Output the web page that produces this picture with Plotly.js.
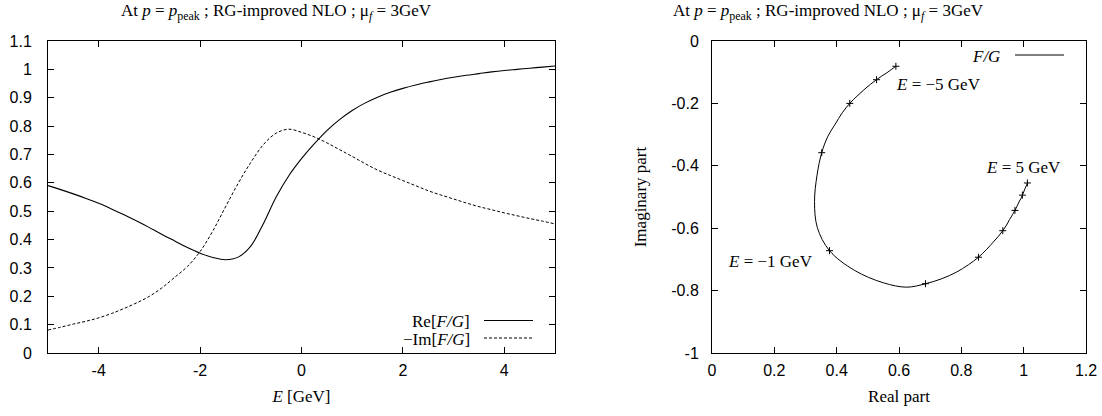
<!DOCTYPE html>
<html>
<head>
<meta charset="utf-8">
<script src="https://cdn.plot.ly/plotly-3.0.1.min.js"></script>
<style>html,body{margin:0;padding:0;background:#fff;}#chart{width:1102px;height:416px;}</style>
</head>
<body>
<div id="chart"></div>
<script>
// Energy grid [GeV]
const E = [-5, -4.75, -4.5, -4.25, -4, -3.75, -3.5, -3.25, -3, -2.75, -2.5, -2.25, -2, -1.75, -1.5, -1.25, -1, -0.75, -0.5, -0.25, 0, 0.25, 0.5, 0.75, 1, 1.25, 1.5, 1.75, 2, 2.25, 2.5, 2.75, 3, 3.25, 3.5, 3.75, 4, 4.25, 4.5, 4.75, 5];
// Re[F/G]
const reFG = [0.590, 0.576, 0.561, 0.545, 0.528, 0.508, 0.487, 0.465, 0.442, 0.418, 0.395, 0.372, 0.352, 0.337, 0.329, 0.338, 0.377, 0.457, 0.550, 0.625, 0.685, 0.737, 0.784, 0.823, 0.855, 0.881, 0.902, 0.919, 0.933, 0.945, 0.955, 0.964, 0.972, 0.979, 0.985, 0.991, 0.996, 1.000, 1.004, 1.008, 1.012];
// -Im[F/G]
const negImFG = [0.081, 0.091, 0.102, 0.112, 0.124, 0.139, 0.157, 0.177, 0.200, 0.230, 0.267, 0.305, 0.358, 0.430, 0.515, 0.598, 0.672, 0.735, 0.775, 0.789, 0.778, 0.762, 0.741, 0.717, 0.693, 0.668, 0.645, 0.626, 0.608, 0.590, 0.572, 0.557, 0.543, 0.529, 0.516, 0.505, 0.494, 0.484, 0.474, 0.465, 0.455];

// Tick values and labels
const leftXTicks = [-4, -2, 0, 2, 4];
const leftXTickText = ['-4', '-2', '0', '2', '4'];
const leftYTicks = [0, 0.1, 0.2, 0.3, 0.4, 0.5, 0.6, 0.7, 0.8, 0.9, 1, 1.1];
const leftYTickText = ['0', '0.1', '0.2', '0.3', '0.4', '0.5', '0.6', '0.7', '0.8', '0.9', '1', '1.1'];
const rightXTicks = [0, 0.2, 0.4, 0.6, 0.8, 1, 1.2];
const rightXTickText = ['0', '0.2', '0.4', '0.6', '0.8', '1', '1.2'];
const rightYTicks = [0, -0.2, -0.4, -0.6, -0.8, -1];
const rightYTickText = ['0', '-0.2', '-0.4', '-0.6', '-0.8', '-1'];

const titleText = 'At <i>p</i> = <i>p</i><sub>peak</sub> ; RG-improved NLO ; μ<sub><i>f</i></sub> = 3GeV';
const legendLeft = ['Re[<i>F/G</i>]', '−Im[<i>F/G</i>]'];
const legendRight = '<i>F/G</i>';
const pointLabels = ['<i>E</i> = −5 GeV', '<i>E</i> = 5 GeV', '<i>E</i> = −1 GeV'];

const imFG = negImFG.map(v => -v);
const markIdx = E.map((e, i) => Number.isInteger(e) ? i : -1).filter(i => i >= 0);

const W = 1102, H = 416;
const mt = 41, mb = 63;
const ph = H - mt - mb;
const px = v => v / W;
const py = v => (H - mb - v) / ph;

const serif = 'Liberation Serif, Times New Roman, serif';
const sans = 'Liberation Sans, Arial, Helvetica, sans-serif';
const SF = 17;

const traces = [
  {x: E, y: reFG, xaxis: 'x', yaxis: 'y', mode: 'lines', line: {color: '#000', width: 1.1, shape: 'spline', smoothing: 1}, hoverinfo: 'skip'},
  {x: E, y: negImFG, xaxis: 'x', yaxis: 'y', mode: 'lines', line: {color: '#000', width: 1, dash: '3px,2px', shape: 'spline', smoothing: 1}, hoverinfo: 'skip'},
  {x: reFG, y: imFG, xaxis: 'x2', yaxis: 'y2', mode: 'lines', line: {color: '#000', width: 1, shape: 'spline', smoothing: 1}, hoverinfo: 'skip'},
  {x: markIdx.map(i => reFG[i]), y: markIdx.map(i => imFG[i]), xaxis: 'x2', yaxis: 'y2', mode: 'markers',
   marker: {symbol: 'cross-thin', size: 5, color: '#000', line: {color: '#000', width: 1}}, hoverinfo: 'skip'}
];

const axisCommon = {
  showline: true, linecolor: '#000', linewidth: 1, mirror: 'ticks',
  ticks: 'inside', ticklen: 6, tickwidth: 1, tickcolor: '#000',
  showgrid: false, zeroline: false, tickmode: 'array',
  tickfont: {family: sans, size: 16, color: '#000'},
  ticklabelstandoff: 3
};

const frame = (l, r, t, b) => ({type: 'rect', xref: 'paper', yref: 'paper', x0: px(l), x1: px(r), y0: py(b), y1: py(t),
  line: {color: '#000', width: 1}, fillcolor: 'rgba(0,0,0,0)', layer: 'above'});

const layout = {
  width: W, height: H,
  margin: {l: 0, r: 0, t: mt, b: mb, pad: 0},
  paper_bgcolor: '#fff', plot_bgcolor: '#fff',
  showlegend: false,
  xaxis: Object.assign({}, axisCommon, {domain: [px(48), px(555)], range: [-5, 5], tickvals: leftXTicks, ticktext: leftXTickText,
    title: {text: '<i>E</i> [GeV]', font: {family: serif, size: SF, color: '#000'}, standoff: 11}, anchor: 'y'}),
  yaxis: Object.assign({}, axisCommon, {domain: [0, 1], range: [0, 1.1], tickvals: leftYTicks, ticktext: leftYTickText, anchor: 'x',
    ticklabelstandoff: 12}),
  xaxis2: Object.assign({}, axisCommon, {domain: [px(712), px(1086)], range: [0, 1.2], tickvals: rightXTicks, ticktext: rightXTickText,
    title: {text: 'Real part', font: {family: serif, size: SF, color: '#000'}, standoff: 11}, anchor: 'y2'}),
  yaxis2: Object.assign({}, axisCommon, {domain: [0, 1], range: [-1, 0], tickvals: rightYTicks, ticktext: rightYTickText, anchor: 'x2',
    ticklabelstandoff: 9,
    title: {text: 'Imaginary part', font: {family: serif, size: SF, color: '#000'}, standoff: 20}}),
  annotations: [
    {xref: 'paper', yref: 'paper', x: px(276), y: py(12), text: titleText, showarrow: false, xanchor: 'center', yanchor: 'middle', font: {family: serif, size: SF, color: '#000'}},
    {xref: 'paper', yref: 'paper', x: px(828), y: py(12), text: titleText, showarrow: false, xanchor: 'center', yanchor: 'middle', font: {family: serif, size: SF, color: '#000'}},
    {xref: 'paper', yref: 'paper', x: px(472), y: py(321), text: legendLeft[0], showarrow: false, xanchor: 'right', yanchor: 'middle', font: {family: serif, size: SF, color: '#000'}},
    {xref: 'paper', yref: 'paper', x: px(472), y: py(339), text: legendLeft[1], showarrow: false, xanchor: 'right', yanchor: 'middle', font: {family: serif, size: SF, color: '#000'}},
    {xref: 'paper', yref: 'paper', x: px(1002), y: py(56), text: legendRight, showarrow: false, xanchor: 'right', yanchor: 'middle', font: {family: serif, size: SF, color: '#000'}},
    {xref: 'x2', yref: 'y2', x: reFG[E.indexOf(-5)], y: imFG[E.indexOf(-5)], xshift: -2, yshift: -18, text: pointLabels[0], showarrow: false, xanchor: 'left', yanchor: 'middle', font: {family: serif, size: SF, color: '#000'}},
    {xref: 'x2', yref: 'y2', x: reFG[E.indexOf(5)], y: imFG[E.indexOf(5)], xshift: 36, yshift: 15, text: pointLabels[1], showarrow: false, xanchor: 'right', yanchor: 'middle', font: {family: serif, size: SF, color: '#000'}},
    {xref: 'x2', yref: 'y2', x: reFG[E.indexOf(-1)], y: imFG[E.indexOf(-1)], xshift: -104, yshift: -11, text: pointLabels[2], showarrow: false, xanchor: 'left', yanchor: 'middle', font: {family: serif, size: SF, color: '#000'}}
  ],
  shapes: [
    frame(47.5, 555.5, 40.5, 353.5),
    frame(711.5, 1086.5, 40.5, 353.5),
    {type: 'line', xref: 'paper', yref: 'paper', x0: px(484), x1: px(533), y0: py(320.5), y1: py(320.5), line: {color: '#000', width: 1}},
    {type: 'line', xref: 'paper', yref: 'paper', x0: px(484), x1: px(533), y0: py(338), y1: py(338), line: {color: '#000', width: 1, dash: '3px,2px'}},
    {type: 'line', xref: 'paper', yref: 'paper', x0: px(1015), x1: px(1064), y0: py(55), y1: py(55), line: {color: '#000', width: 1}}
  ]
};

Plotly.newPlot('chart', traces, layout, {staticPlot: true, displayModeBar: false});
</script>
</body>
</html>
